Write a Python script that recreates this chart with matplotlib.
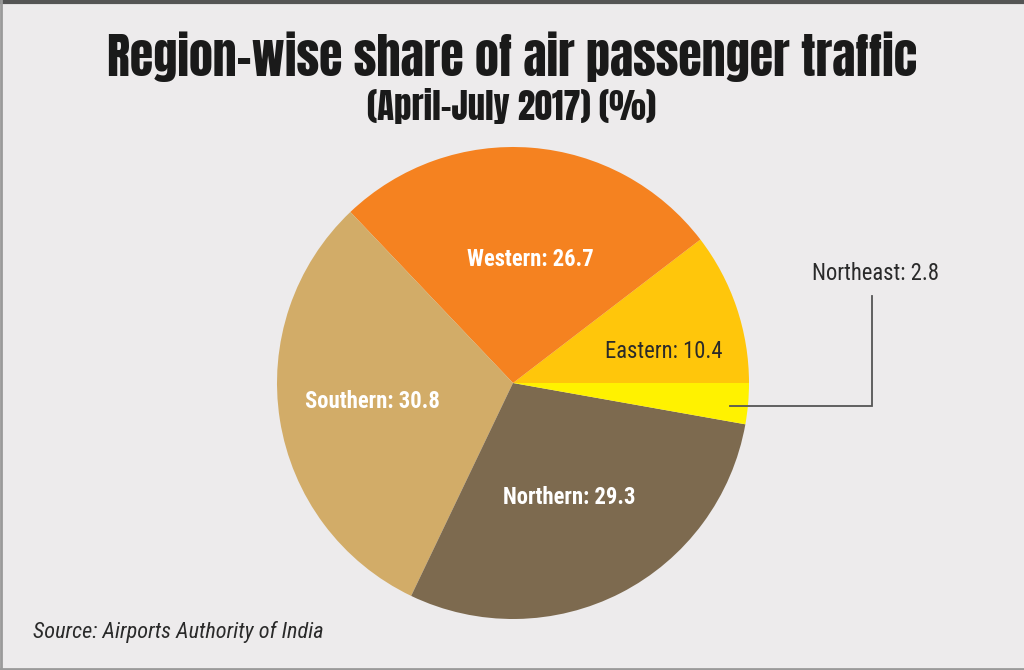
import matplotlib.pyplot as plt

# data, counterclockwise from 3 o'clock
regions = ["Eastern", "Western", "Southern", "Northern", "Northeast"]
shares = [10.4, 26.7, 30.8, 29.3, 2.8]
colors = ["#FFC60B", "#F58220", "#D2AC68", "#7D6A4F", "#FFF200"]

title = "Region-wise share of air passenger traffic"
subtitle = "(April-July 2017) (%)"
source = "Source: Airports Authority of India"

bg = "#EDEBEC"
W, H = 1024, 670

heavy = ["Anton", "Oswald", "Roboto Condensed", "DejaVu Sans"]
narrow = ["Roboto Condensed", "Liberation Sans Narrow", "DejaVu Sans"]

fig = plt.figure(figsize=(W / 100, H / 100), dpi=100, facecolor=bg)
ax = fig.add_axes([0, 0, 1, 1])

# pie, center and radius in pixel units
cx, cy, r = 513, H - 383, 236
wedges, _ = ax.pie(shares, colors=colors, startangle=0, counterclock=True,
                   center=(cx, cy), radius=r, frame=True,
                   wedgeprops=dict(linewidth=0))
ax.set_xlim(0, W)
ax.set_ylim(0, H)
ax.set_aspect("equal")
ax.axis("off")

ax.text(512, H - 57, title, ha="center", va="center", fontsize=34.5,
        family=heavy, color="#1a1a1a")
ax.text(512, H - 106, subtitle, ha="center", va="center", fontsize=25,
        family=heavy, color="#1a1a1a")

# slice labels
lab = dict(ha="center", va="center", fontsize=16.3, family=narrow)
ax.text(530, H - 259, f"Western: {shares[1]}", fontweight="bold",
        color="white", **lab)
ax.text(664, H - 352, f"Eastern: {shares[0]}", color="#2a2a2a", **lab)
ax.text(372, H - 401, f"Southern: {shares[2]}", fontweight="bold",
        color="white", **lab)
ax.text(569, H - 497, f"Northern: {shares[3]}", fontweight="bold",
        color="white", **lab)
ax.text(876, H - 273, f"Northeast: {shares[4]}", color="#2a2a2a", **lab)

# leader line for Northeast
ax.plot([730, 872, 872], [H - 406, H - 406, H - 296], color="#555555",
        lw=1.3, solid_joinstyle="miter")

ax.text(33, H - 632, source, ha="left", va="center", fontsize=16,
        style="italic", family=narrow, color="#2a2a2a")

# frame
ax.plot([0, W], [H - 1.5, H - 1.5], color="#555555", lw=3)
ax.plot([1, 1], [0, H], color="#9a9a9a", lw=2)
ax.plot([0, W], [1, 1], color="#9a9a9a", lw=2)

fig.savefig("out.png", dpi=100, facecolor=bg)
